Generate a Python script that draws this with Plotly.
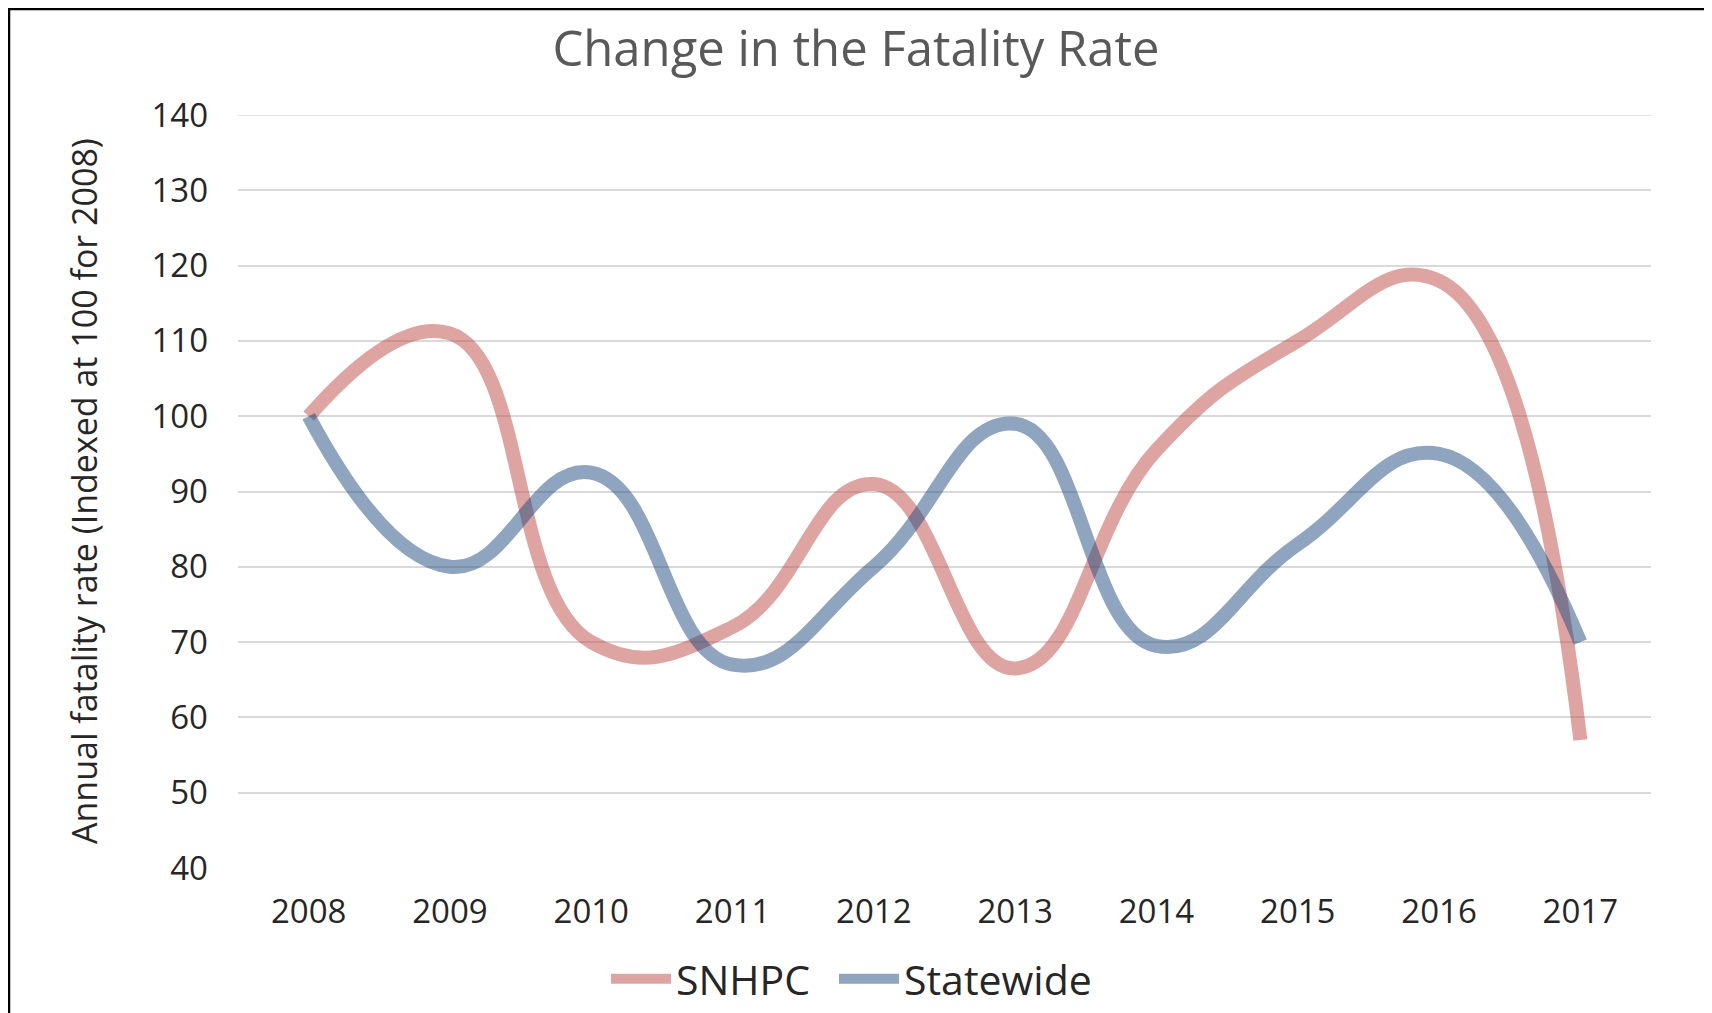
import plotly.graph_objects as go

years = ["2008", "2009", "2010", "2011", "2012", "2013", "2014", "2015", "2016", "2017"]
snhpc = [100, 111, 70, 72, 91, 66.5, 95.5, 110, 118, 57]
statewide = [100, 80, 92.5, 67, 80, 99, 69.5, 83, 95, 70]
y_ticks = [40, 50, 60, 70, 80, 90, 100, 110, 120, 130, 140]

FONT = "Open Sans"
OFF = 8  # page body margin
WIN_W, WIN_H = 1712, 1013
W, H = WIN_W - OFF, WIN_H - OFF
# plot area in window pixels
PL, PR, PT, PB = 238, 1651, 115, 868
L, R, T, B = PL - OFF, W - (PR - OFF), PT - OFF, H - (PB - OFF)

pw = W - L - R
ph = H - T - B


def px_x(x):
    return (x - OFF - L) / pw


def px_y(y):
    return (PB - y) / ph


fig = go.Figure()
fig.add_trace(go.Scatter(
    x=years, y=snhpc, name="SNHPC", mode="lines", legend="legend",
    line=dict(color="rgba(192,80,77,0.52)", width=14, shape="spline", smoothing=1.3),
))
fig.add_trace(go.Scatter(
    x=years, y=statewide, name="Statewide", mode="lines", legend="legend2",
    line=dict(color="rgba(31,73,125,0.5)", width=14, shape="spline", smoothing=1.3),
))

legend_common = dict(orientation="h", xanchor="left", y=px_y(979), yanchor="middle",
                     font=dict(family=FONT, size=41, color="#262626"), itemwidth=60,
                     bgcolor="rgba(0,0,0,0)")

fig.update_layout(
    width=W, height=H,
    margin=dict(l=L, r=R, t=T, b=B, pad=0, autoexpand=False),
    paper_bgcolor="white", plot_bgcolor="white",
    font=dict(family=FONT, color="#262626"),
    title=dict(text="Change in the Fatality Rate", x=(856 - OFF) / W, xanchor="center",
               y=1 - (49 - OFF) / H, yanchor="middle",
               font=dict(family=FONT, size=49, color="#595959")),
    showlegend=True,
    legend=dict(x=px_x(606), **legend_common),
    legend2=dict(x=px_x(834), **legend_common),
    xaxis=dict(type="category", range=[-0.5, 9.5], showgrid=False, zeroline=False,
               showline=False, ticks="", tickfont=dict(family=FONT, size=33, color="#262626"),
               ticklabelstandoff=21, automargin=False),
    yaxis=dict(range=[40, 140], tickvals=y_ticks, showgrid=True, gridcolor="#D9D9D9",
               gridwidth=1.5, zeroline=False, showline=False, ticks="",
               tickfont=dict(family=FONT, size=33, color="#262626"), ticklabelstandoff=29,
               automargin=False),
)

# top gridline (plotly drops gridlines lying on the plot edge)
fig.add_shape(type="line", xref="paper", yref="y", x0=0, x1=1, y0=y_ticks[-1], y1=y_ticks[-1],
              line=dict(color="#D9D9D9", width=1.5), layer="below")

fig.add_annotation(
    text="Annual fatality rate (Indexed at 100 for 2008)", textangle=-90,
    xref="paper", yref="paper", x=px_x(84), y=px_y(491), xanchor="center", yanchor="middle",
    showarrow=False, font=dict(family=FONT, size=34, color="#262626"),
)

fig.add_shape(
    type="rect", xref="paper", yref="paper",
    x0=px_x(9), x1=px_x(1706), y0=px_y(1040), y1=px_y(OFF + 1),
    line=dict(color="black", width=2.5), fillcolor="rgba(0,0,0,0)", layer="above",
)

fig.write_html("out.html")
